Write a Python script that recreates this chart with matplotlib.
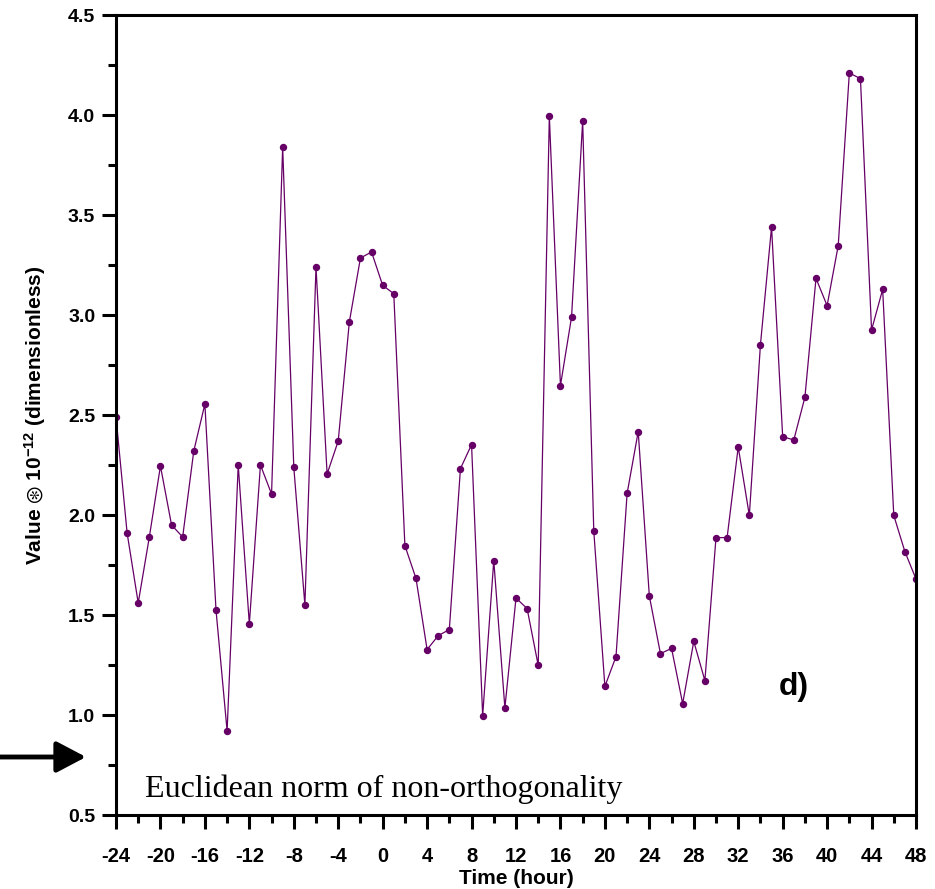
import matplotlib
matplotlib.use("Agg")
import matplotlib.pyplot as plt
from matplotlib.ticker import MultipleLocator

hours = list(range(-24, 49))
values = [2.49, 1.91, 1.56, 1.89, 2.245, 1.95, 1.89, 2.32, 2.555, 1.525,
          0.92, 2.25, 1.455, 2.25, 2.105, 3.84, 2.24, 1.55, 3.24, 2.205,
          2.37, 2.965, 3.285, 3.315, 3.148, 3.107, 1.847, 1.683, 1.327, 1.397,
          1.427, 2.232, 2.352, 0.997, 1.772, 1.035, 1.585, 1.532, 1.248, 3.995,
          2.647, 2.99, 3.97, 1.92, 1.143, 1.292, 2.108, 2.417, 1.595, 1.307,
          1.333, 1.057, 1.368, 1.172, 1.887, 1.887, 2.34, 1.998, 2.852, 3.44,
          2.392, 2.375, 2.588, 3.183, 3.047, 3.347, 4.21, 4.182, 2.925, 3.128,
          1.998, 1.817, 1.68]
xticks = list(range(-24, 49, 4))
yticks = [0.5, 1.0, 1.5, 2.0, 2.5, 3.0, 3.5, 4.0, 4.5]

plt.rcParams['font.family'] = ['Liberation Sans', 'DejaVu Sans']
plt.rcParams['mathtext.fontset'] = 'custom'
plt.rcParams['mathtext.rm'] = 'Liberation Sans:bold'
plt.rcParams['mathtext.bf'] = 'Liberation Sans:bold'
plt.rcParams['mathtext.it'] = 'Liberation Sans:bold'

fig = plt.figure(figsize=(9.35, 8.89), dpi=100)
ax = fig.add_axes([116/935, 1-815/889, 800/935, 800/889])

ax.plot(hours, values, color='#660066', lw=0.9, marker='o', ms=4.3,
        mec='#660066', mfc='#660066')

ax.set_xlim(-24, 48)
ax.set_ylim(0.5, 4.5)
ax.set_xticks(xticks)
ax.set_xticklabels([str(t) for t in xticks])
ax.xaxis.set_minor_locator(MultipleLocator(2))
ax.set_yticks(yticks)
ax.set_yticklabels([f"{t:.1f}" for t in yticks])
ax.yaxis.set_minor_locator(MultipleLocator(0.25))

for s in ax.spines.values():
    s.set_linewidth(2.2)
ax.tick_params(which='major', direction='out', length=10, width=2.2)
ax.tick_params(which='minor', direction='out', length=5.5, width=2.2)
ax.tick_params(axis='x', which='major', pad=13, labelsize=14.5)
ax.tick_params(axis='y', which='major', pad=5, labelsize=14)
for lab in ax.get_xticklabels() + ax.get_yticklabels():
    lab.set_fontweight('bold')

ax.set_xlabel('Time (hour)', fontsize=15, fontweight='bold', labelpad=2)
ax.set_ylabel('Value $\\circledast$ 10$^{\\mathbf{-12}}$ (dimensionless)', fontsize=15,
              fontweight='bold', labelpad=14)

ax.text(0.8475, 0.16, 'd)', transform=ax.transAxes, fontsize=23,
        fontweight='bold', ha='center', va='center')
ax.text(0.036, 0.0225, 'Euclidean norm of non-orthogonality', transform=ax.transAxes,
        fontsize=23, family='Liberation Serif', ha='left', va='baseline')

ax.annotate('', xy=(86, 132), xycoords='figure pixels', xytext=(-2, 132),
            textcoords='figure pixels',
            arrowprops=dict(arrowstyle='-|>,head_length=1.8,head_width=0.95',
                            lw=3.5, color='black', shrinkA=0, shrinkB=0),
            annotation_clip=False)

fig.savefig('out.png', dpi=100)
